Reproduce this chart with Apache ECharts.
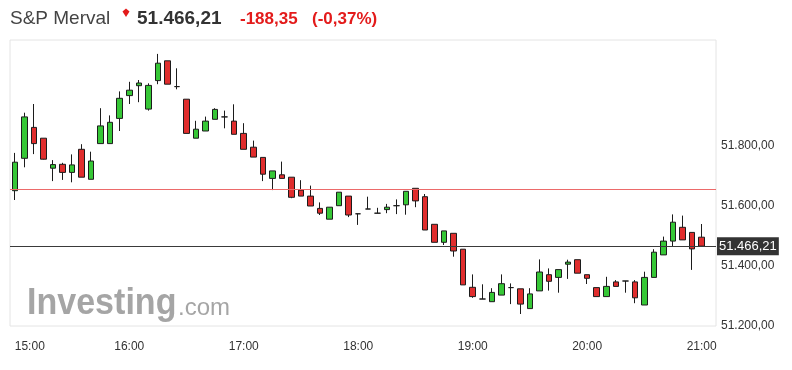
<!DOCTYPE html>
<html>
<head>
<meta charset="utf-8">
<script src="https://cdn.jsdelivr.net/npm/echarts@6/dist/echarts.min.js"></script>
<style>
html,body{margin:0;padding:0;background:#fff;}
#c{width:792px;height:370px;}
</style>
</head>
<body>
<div id="c"></div>
<script>
var times = ['15:00','15:05','15:10','15:15','15:20','15:25','15:30','15:35','15:40','15:45','15:50','15:55',
'16:00','16:05','16:10','16:15','16:20','16:25','16:30','16:35','16:40','16:45','16:50','16:55',
'17:00','17:05','17:10','17:15','17:20','17:25','17:30','17:35','17:40','17:45','17:50','17:55',
'18:00','18:05','18:10','18:15','18:20','18:25','18:30','18:35','18:40','18:45','18:50','18:55',
'19:00','19:05','19:10','19:15','19:20','19:25','19:30','19:35','19:40','19:45','19:50','19:55',
'20:00','20:05','20:10','20:15','20:20','20:25','20:30','20:35','20:40','20:45','20:50','20:55',
'21:00','21:05'];

var opens = [51651,51759,51862,51826,51726,51739,51712,51789,51689,51808,51808,51892,
51968,52001,51923,52018,52084,51998,51956,51826,51850,51889,51897,51883,
51842,51796,51762,51692,51704,51696,51653,51633,51592,51556,51601,51633,
51574,51590,51576,51588,51601,51604,51659,51631,51539,51479,51509,51456,
51329,51290,51281,51303,51328,51324,51258,51317,51371,51362,51406,51421,
51371,51328,51298,51347,51350,51347,51270,51362,51437,51483,51529,51512,
51496];
var closes = [51746,51897,51808,51756,51738,51712,51737,51696,51750,51867,51879,51959,
51986,52010,52002,52076,52006,51998,51842,51856,51883,51922,51897,51839,
51789,51763,51706,51717,51692,51629,51633,51600,51576,51596,51646,51570,
51574,51590,51576,51596,51601,51649,51617,51520,51479,51517,51450,51337,
51298,51290,51312,51341,51328,51273,51307,51380,51349,51388,51413,51376,
51359,51298,51332,51332,51350,51294,51362,51446,51483,51546,51487,51457,
51466.21];
var lows = [51620,51729,51773,51755,51683,51687,51679,51696,51689,51808,51808,51850,
51940,51946,51918,52006,52006,51989,51842,51826,51850,51889,51859,51839,
51789,51763,51683,51653,51692,51626,51633,51600,51570,51556,51601,51563,
51537,51590,51576,51576,51573,51571,51596,51520,51479,51470,51431,51337,
51294,51290,51281,51303,51273,51240,51258,51317,51318,51311,51357,51376,
51340,51298,51298,51332,51311,51276,51270,51362,51437,51464,51487,51387,
51466.21];
var highs = [51777,51911,51940,51826,51753,51744,51772,51806,51781,51926,51902,51982,
52014,52020,52009,52107,52084,52059,51956,51884,51898,51926,51918,51939,
51876,51818,51762,51717,51748,51696,51686,51668,51612,51596,51646,51633,
51574,51631,51594,51607,51622,51649,51659,51640,51539,51517,51509,51456,
51372,51339,51326,51372,51342,51324,51326,51422,51392,51388,51421,51421,
51371,51328,51364,51353,51350,51353,51381,51456,51498,51572,51568,51512,
51540];
var yTicks = [51200, 51400, 51600, 51800];
var lastPrice = 51466.21;
var prevClose = 51654.56;
var changeAbs = -188.35;
var changePct = -0.37;

function fmt(v, d) {
  var s = Math.abs(v).toFixed(d);
  var parts = s.split('.');
  var ip = parts[0].replace(/\B(?=(\d{3})+(?!\d))/g, '.');
  return (v < 0 ? '-' : '') + ip + (parts[1] ? ',' + parts[1] : '');
}

var candleData = opens.map(function (o, i) { return [o, closes[i], lows[i], highs[i]]; });

var chart = echarts.init(document.getElementById('c'), null, {renderer: 'canvas'});
var FONT = 'Liberation Sans, Arial, sans-serif';
var RED = '#e31b1b';

chart.setOption({
  animation: false,
  backgroundColor: '#fff',
  textStyle: {fontFamily: FONT},
  grid: {left: 10, right: 76, top: 40, bottom: 44, show: true, borderColor: '#e4e4e4', borderWidth: 1, backgroundColor: 'transparent'},
  xAxis: {
    type: 'category', data: times, boundaryGap: true,
    axisLine: {show: false}, axisTick: {show: false}, splitLine: {show: false},
    axisLabel: {interval: 11, color: '#333', fontSize: 12, margin: 15, fontFamily: FONT, alignMinLabel: 'left'}
  },
  yAxis: {
    type: 'value', position: 'right', min: 51200, max: 51200 + 286 / 0.3, interval: 200, scale: true,
    axisLine: {show: false}, axisTick: {show: false}, splitLine: {show: false},
    axisLabel: {
      color: '#333', fontSize: 12, margin: 5, fontFamily: FONT, showMaxLabel: false,
      formatter: function (v) { return yTicks.indexOf(Math.round(v)) >= 0 && Math.abs(v - Math.round(v)) < 1e-6 ? fmt(v, 2) : ''; }
    }
  },
  graphic: [
    {type: 'text', left: 10, top: 9, style: {text: 'S&P Merval', font: 'normal 19px ' + FONT, fill: '#444'}},
    {type: 'polygon', shape: {points: [[122.5, 11.5], [126, 8.5], [129.5, 11.5], [126, 17]]}, style: {fill: RED}},
    {type: 'text', left: 137, top: 9, style: {text: fmt(lastPrice, 2), font: 'bold 19px ' + FONT, fill: '#333'}},
    {type: 'text', left: 240, top: 11, style: {text: fmt(changeAbs, 2), font: 'bold 17px ' + FONT, fill: RED}},
    {type: 'text', left: 312, top: 11, style: {text: '(' + fmt(changePct, 2) + '%)', font: 'bold 17px ' + FONT, fill: RED}},
    {type: 'text', x: 27, y: 285, scaleX: 0.92, z: -1, style: {text: 'Investing', font: 'bold 37px ' + FONT, fill: '#9b9b9b', opacity: 0.9}},
    {type: 'text', x: 178, y: 296, z: -1, style: {text: '.com', font: 'normal 24px ' + FONT, fill: '#9b9b9b', opacity: 0.9}}
  ],
  series: [{
    type: 'line',
    data: [],
    silent: true,
    z: 1,
    markLine: {
      silent: true, symbol: 'none', animation: false,
      lineStyle: {color: '#ec6a6a', width: 1, type: 'solid', opacity: 1},
      label: {show: false},
      data: [{yAxis: prevClose}]
    }
  }, {
    type: 'candlestick',
    data: candleData,
    barWidth: 6,
    z: 3,
    itemStyle: {
      color: '#36c736', color0: '#e02d2d',
      borderColor: '#1c1c1c', borderColor0: '#1c1c1c', borderColorDoji: '#1c1c1c',
      borderWidth: 1
    },
    markLine: {
      silent: true, symbol: 'none', animation: false,
      lineStyle: {color: '#3a3a3a', width: 1, type: 'solid', opacity: 1},
      data: [
        {yAxis: lastPrice,
          label: {show: true, position: 'end', distance: 1, formatter: fmt(lastPrice, 2), backgroundColor: '#333', color: '#fff',
            fontSize: 13, fontFamily: FONT, padding: [3, 2, 2, 2]}}
      ]
    }
  }]
});
</script>
</body>
</html>
